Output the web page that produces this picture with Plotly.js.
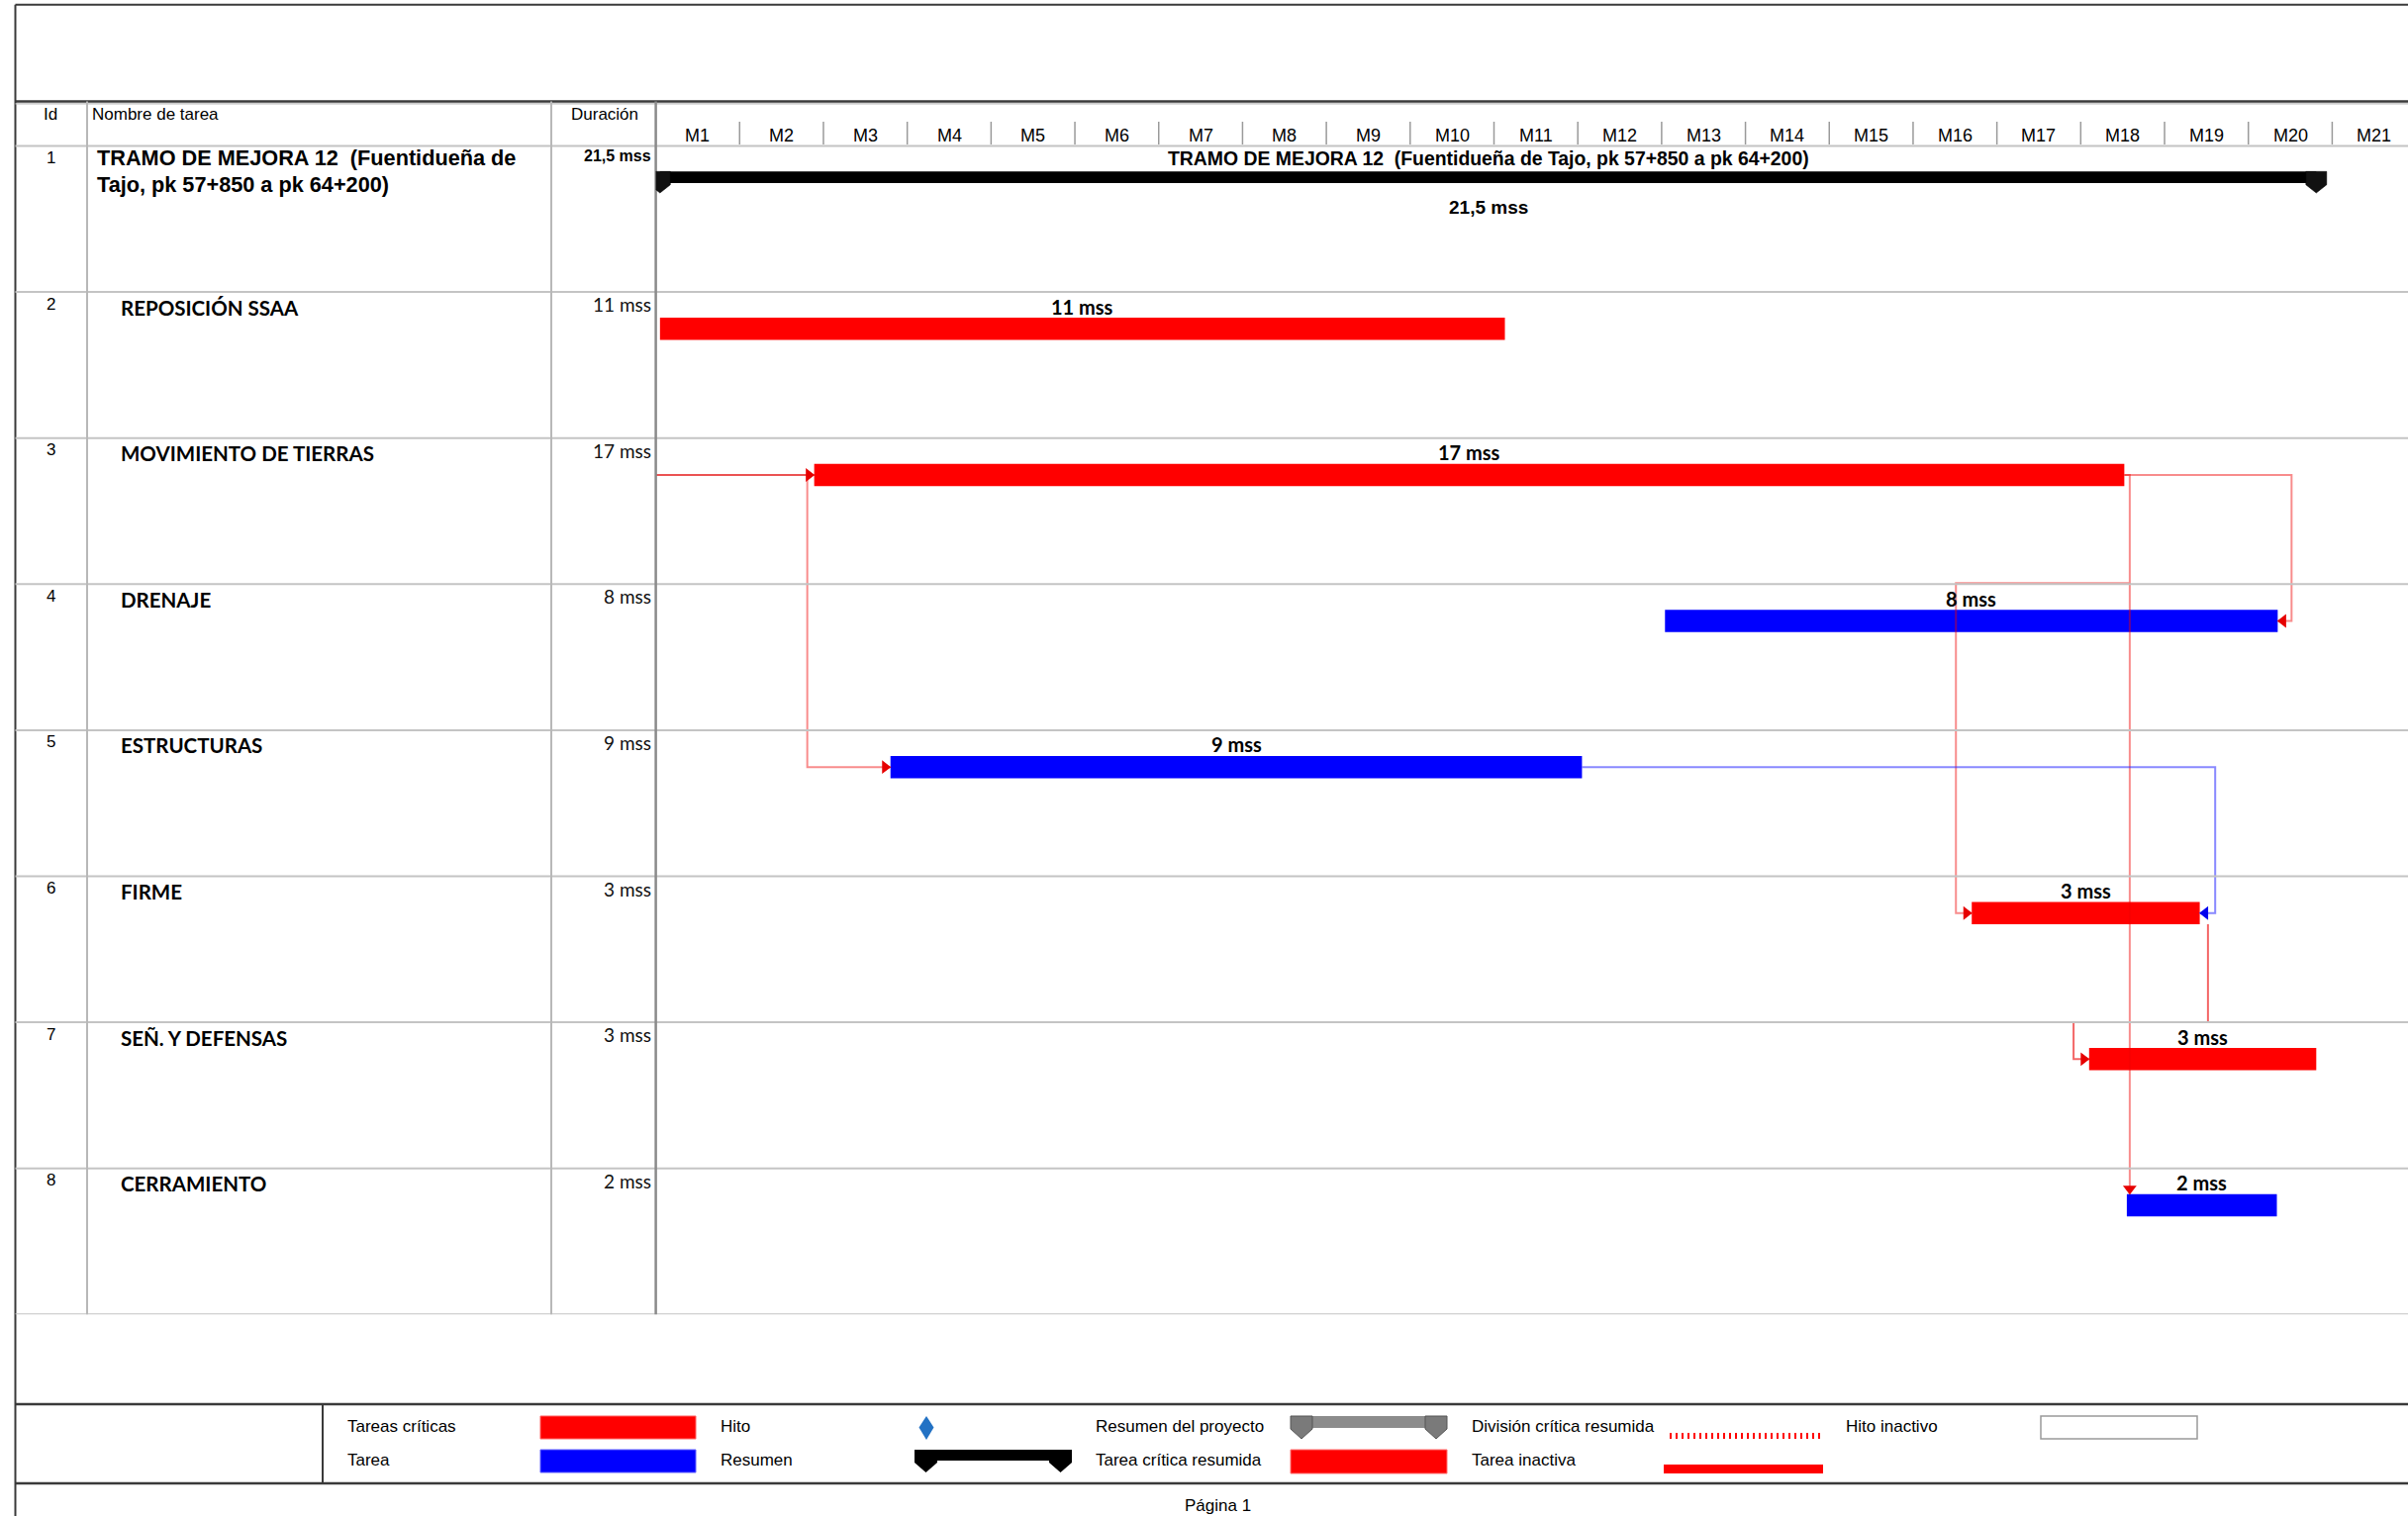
<!DOCTYPE html>
<html><head><meta charset="utf-8">
<script src="https://cdn.plot.ly/plotly-3.0.1.min.js"></script>
<style>html,body{margin:0;padding:0;background:#fff;overflow:hidden}</style>
</head><body><div id="chart" style="width:2433px;height:1532px"></div>
<script>
// ---------------- DATA ----------------
const taskIds = [1, 2, 3, 4, 5, 6, 7, 8];
const taskNames = ["TRAMO DE MEJORA 12  (Fuentidueña de Tajo, pk 57+850 a pk 64+200)",
  "REPOSICIÓN SSAA", "MOVIMIENTO DE TIERRAS", "DRENAJE", "ESTRUCTURAS", "FIRME", "SEÑ. Y DEFENSAS", "CERRAMIENTO"];
const nameLine1 = "TRAMO DE MEJORA 12\u00a0\u00a0(Fuentidueña de";
const nameLine2 = "Tajo, pk 57+850 a pk 64+200)";
const durationLabels = ["21,5 mss", "11 mss", "17 mss", "8 mss", "9 mss", "3 mss", "3 mss", "2 mss"];
// start / end read on the timescale (units = timescale months, 0 = start of M1)
const taskStart = [null, 0.05, 1.89, 12.04, 2.80, 15.70, 17.10, 17.55];
const taskEnd   = [null, 10.13, 17.52, 19.35, 11.05, 18.42, 19.81, 19.34];
const taskCritical = [null, true, true, false, false, true, true, false];
const monthLabels = ["M1","M2","M3","M4","M5","M6","M7","M8","M9","M10","M11","M12","M13","M14","M15","M16","M17","M18","M19","M20","M21"];
const legendCol1 = ["Tareas críticas", "Tarea"];
const legendCol2 = ["Hito", "Resumen"];
const legendCol3 = ["Resumen del proyecto", "Tarea crítica resumida"];
const legendCol4 = ["División crítica resumida", "Tarea inactiva"];
const legendCol5 = ["Hito inactivo"];
const headers = ["Id", "Nombre de tarea", "Duración"];
const pageLabel = "Página 1";

// ---------------- GEOMETRY ----------------
const W = 2433, H = 1532;
const X0 = 662.6, MW = 84.69;      // timeline left edge, month width (px)
const ROW0 = 147.5, RH = 147.6;    // top of row 1, row height (px)
const NR = 8;
const P = x => x / W, Q = y => 1 - y / H;
const dx = px => px / MW, dy = px => px / RH;
const BAR_T = 26, BAR_H = 22.5;
const yc = i => (i - 1) + dy(BAR_T + BAR_H / 2);
const ytop = i => (i - 1) + dy(BAR_T);
const ybot = i => (i - 1) + dy(BAR_T + BAR_H);

const RED = '#ff0000', BLUE = '#0000ff';
const ARIAL = 'Liberation Sans, Arial, sans-serif';
const CAL = 'Lato, Carlito, Calibri, sans-serif';

const traces = [];
// task bars
function barTrace(crit, color) {
  const ys = [], bases = [], lens = [];
  for (let i = 2; i <= NR; i++) {
    if (taskCritical[i - 1] === crit) {
      ys.push(yc(i)); bases.push(taskStart[i - 1]); lens.push(taskEnd[i - 1] - taskStart[i - 1]);
    }
  }
  return {type: 'bar', orientation: 'h', y: ys, base: bases, x: lens, width: ys.map(() => dy(BAR_H)),
    marker: {color: color, line: {width: 0}}, hoverinfo: 'skip'};
}
traces.push(barTrace(true, RED));
traces.push(barTrace(false, BLUE));
// summary bar
const sumStart = Math.min(...taskStart.slice(1));
const sumEnd = Math.max(...taskEnd.slice(1));
const SUM_T = 25.8, SUM_H = 11.7;
traces.push({type: 'bar', orientation: 'h', y: [dy(SUM_T + SUM_H / 2)], base: [sumStart], x: [sumEnd - sumStart],
  width: [dy(SUM_H)], marker: {color: '#000', line: {width: 0}}, hoverinfo: 'skip'});

// links
const s = i => taskStart[i - 1], e = i => taskEnd[i - 1];
const LRED = 'rgba(240,0,0,0.45)', LBLUE = 'rgba(40,40,255,0.55)';
function link(pts, color, w) {
  traces.push({type: 'scatter', mode: 'lines', x: pts.map(p => p[0]), y: pts.map(p => p[1]),
    line: {color: color, width: w || 2}, hoverinfo: 'skip'});
}
const arrows = {red: {x: [], y: [], sym: []}, blue: {x: [], y: [], sym: []}};
function arrow(c, x, y, sym) { arrows[c].x.push(x); arrows[c].y.push(y); arrows[c].sym.push(sym); }
const AH = 5.5; // half arrow size px
// A: from project start to task 3
link([[0, yc(3)], [s(3), yc(3)]], 'rgba(225,0,0,0.9)', 1.6);
arrow('red', s(3) - dx(AH), yc(3), 'triangle-right');
// B: 3 -> 5 (start-start)
const bx = s(3) - dx(7);
link([[bx, yc(3)], [bx, yc(5)], [s(5), yc(5)]], LRED);
arrow('red', s(5) - dx(AH), yc(5), 'triangle-right');
// C: 3 -> 4 (finish-finish)
const cx = e(4) + dx(14);
link([[e(3), yc(3)], [cx, yc(3)], [cx, yc(4)], [e(4), yc(4)]], LRED);
arrow('red', e(4) + dx(AH), yc(4), 'triangle-left');
// D: 3 -> 6
const dxv = e(3) + dx(5.5), dxl = s(6) - dx(16);
link([[e(3), yc(3)], [dxv, yc(3)], [dxv, 3 - dy(1)], [dxl, 3 - dy(1)], [dxl, yc(6)], [s(6), yc(6)]], LRED);
arrow('red', s(6) - dx(AH), yc(6), 'triangle-right');
// E: 3 -> 8
link([[dxv, 3 - dy(1)], [dxv, ytop(8)]], LRED);
arrow('red', dxv, ytop(8) - dy(AH), 'triangle-down');
// F: 5 -> 6 (finish-finish, blue)
const fx = e(6) + dx(15.6);
link([[e(5), yc(5)], [fx, yc(5)], [fx, yc(6)], [e(6), yc(6)]], LBLUE);
arrow('blue', e(6) + dx(AH), yc(6), 'triangle-left');
// G: 6 -> 7
const gx = e(6) + dx(8.3), gl = s(7) - dx(15.7);
link([[gx, ybot(6)], [gx, 6], [gl, 6], [gl, yc(7)], [s(7), yc(7)]], 'rgba(235,0,0,0.6)');
arrow('red', s(7) - dx(AH), yc(7), 'triangle-right');
for (const [c, col] of [['red', '#e60000'], ['blue', '#0000ee']]) {
  traces.push({type: 'scatter', mode: 'markers', x: arrows[c].x, y: arrows[c].y,
    marker: {symbol: arrows[c].sym, size: 12, color: col, line: {width: 0}}, hoverinfo: 'skip'});
}

// ---------------- SHAPES ----------------
const shapes = [];
const DARK = '#3a3a3a', GRID = '#c4c4c4';
function hline(y, x1, x2, color, w) { shapes.push({type: 'line', xref: 'paper', yref: 'paper', x0: P(x1), x1: P(x2), y0: Q(y), y1: Q(y), line: {color, width: w}}); }
function vline(x, y1, y2, color, w) { shapes.push({type: 'line', xref: 'paper', yref: 'paper', x0: P(x), x1: P(x), y0: Q(y1), y1: Q(y2), line: {color, width: w}}); }
function rect(x1, y1, x2, y2, fill, lc, lw) { shapes.push({type: 'rect', xref: 'paper', yref: 'paper', x0: P(x1), x1: P(x2), y0: Q(y1), y1: Q(y2), fillcolor: fill, line: {color: lc || fill, width: lw || 0}}); }
function path(pts, fill, lc) {
  shapes.push({type: 'path', xref: 'paper', yref: 'paper', fillcolor: fill, line: {color: lc || fill, width: lc ? 1 : 0},
    path: 'M' + pts.map(p => P(p[0]) + ',' + Q(p[1])).join('L') + 'Z'});
}
// frame
hline(4.7, 15.5, W, DARK, 2);
vline(15.5, 4.7, H, DARK, 2);
hline(102.5, 15.5, W, DARK, 2.5);
hline(104.8, 15.5, W, '#bdbdbd', 1.2);
hline(ROW0, 15.5, W, GRID, 2);
for (let k = 1; k <= NR; k++) {
  shapes.push({type: 'line', xref: 'paper', yref: 'y', x0: P(15.5), x1: 1, y0: k, y1: k, line: {color: GRID, width: 2}});
}
vline(88, 102.5, ROW0 + NR * RH, '#b8b8b8', 2);
vline(557, 102.5, ROW0 + NR * RH, '#b8b8b8', 2);
vline(X0, 102.5, ROW0 + NR * RH, '#8a8a8a', 2.5);
// timescale separators
for (let k = 1; k <= monthLabels.length; k++) {
  shapes.push({type: 'line', xref: 'x', yref: 'paper', x0: k, x1: k, y0: Q(123), y1: Q(146), line: {color: '#9a9a9a', width: 1.5}});
}
// summary caps (data-based)
const capHW = dx(10.5);
for (const cxp of [sumStart, sumEnd]) {
  const t = dy(SUM_T), m = dy(SUM_T + 13.4), b = dy(SUM_T + 21.7);
  shapes.push({type: 'path', xref: 'x', yref: 'y', fillcolor: '#111', line: {color: '#000', width: 0.5},
    path: `M${cxp - capHW},${t}L${cxp + capHW},${t}L${cxp + capHW},${m}L${cxp},${b}L${cxp - capHW},${m}Z`});
}
// legend box
hline(1419, 15.5, W, DARK, 2.5);
hline(1499, 15.5, W, DARK, 2.5);
vline(326, 1419, 1499, DARK, 2);
rect(546, 1431, 703, 1454, RED, '#ff6060', 1);
rect(546, 1465, 703, 1488, BLUE, '#6060ff', 1);
path([[936, 1431], [943.5, 1442.5], [936, 1455], [928.5, 1442.5]], '#2372c4');
// resumen black
rect(924, 1465, 1083, 1476, '#000');
path([[924, 1465], [947, 1465], [947, 1478], [935.5, 1488], [924, 1478]], '#000');
path([[1060, 1465], [1083, 1465], [1083, 1478], [1071.5, 1488], [1060, 1478]], '#000');
// resumen del proyecto grey
rect(1304, 1431, 1462, 1443, '#8c8c8c');
path([[1304, 1431], [1326, 1431], [1326, 1444], [1315, 1454], [1304, 1444]], '#7a7a7a', '#555');
path([[1440, 1431], [1462, 1431], [1462, 1444], [1451, 1454], [1440, 1444]], '#7a7a7a', '#555');
rect(1304, 1465, 1462, 1489, RED, '#ff7070', 1);
// division critica resumida
shapes.push({type: 'line', xref: 'paper', yref: 'paper', x0: P(1687), x1: P(1841), y0: Q(1451), y1: Q(1451), line: {color: RED, width: 6, dash: '2px,4px'}});
rect(1681, 1480, 1842, 1489, RED);
rect(2062, 1431, 2220, 1454, '#fff', '#9a9a9a', 1.5);

// ---------------- ANNOTATIONS ----------------
const ann = [];
function txt(x, y, text, opts) {
  ann.push(Object.assign({x, y, text, showarrow: false, xanchor: 'left', yanchor: 'middle',
    font: {family: ARIAL, size: 17, color: '#000'}}, opts));
}
// column headers
txt(P(51), Q(115), headers[0], {xref: 'paper', yref: 'paper', xanchor: 'center'});
txt(P(91), Q(115), headers[1], {xref: 'paper', yref: 'paper'});
txt(P(611), Q(115), headers[2], {xref: 'paper', yref: 'paper', xanchor: 'center'});
// month labels
monthLabels.forEach((m, k) => txt(k + 0.5, Q(136.6), m, {xref: 'x', yref: 'paper', xanchor: 'center', font: {family: ARIAL, size: 18, color: '#000'}}));
// rows
for (let i = 1; i <= NR; i++) {
  txt(P(51), (i - 1) + dy(12), String(taskIds[i - 1]), {xref: 'paper', yref: 'y', xanchor: 'center'});
  if (i === 1) {
    txt(P(96), dy(12.5), nameLine1, {xref: 'paper', yref: 'y', font: {family: ARIAL, size: 21.7, color: '#000', weight: 700}});
    txt(P(96), dy(39), nameLine2, {xref: 'paper', yref: 'y', font: {family: ARIAL, size: 21.7, color: '#000', weight: 700}});
    txt(P(660), dy(9.8), durationLabels[0], {xref: 'paper', yref: 'y', xanchor: 'right', font: {family: ARIAL, size: 16, color: '#000', weight: 700}});
    // summary labels
    const mid = (sumStart + sumEnd) / 2;
    txt(mid, dy(12.5), taskNames[0].replace('  ', '\u00a0\u00a0'), {xref: 'x', yref: 'y', xanchor: 'center', font: {family: ARIAL, size: 19.4, color: '#000', weight: 700}});
    txt(mid, dy(62.5), durationLabels[0], {xref: 'x', yref: 'y', xanchor: 'center', font: {family: ARIAL, size: 19, color: '#000', weight: 700}});
  } else {
    txt(P(119.5), (i - 1) + dy(15.5), taskNames[i - 1], {xref: 'paper', yref: 'y', font: {family: CAL, size: 20.5, color: '#000', weight: 700}});
    txt(P(660), (i - 1) + dy(12.5), durationLabels[i - 1], {xref: 'paper', yref: 'y', xanchor: 'right', font: {family: CAL, size: 19, color: '#111'}});
    txt((s(i) + e(i)) / 2, (i - 1) + dy(14.5), durationLabels[i - 1], {xref: 'x', yref: 'y', xanchor: 'center', font: {family: CAL, size: 20, color: '#000', weight: 700}});
  }
}
// legend text
const LY = [1441.5, 1475.7];
const LF = {family: ARIAL, size: 17, color: '#000'};
[[legendCol1, 349], [legendCol2, 726], [legendCol3, 1105], [legendCol4, 1485], [legendCol5, 1863]].forEach(([col, x]) => {
  col.forEach((t, r) => txt(P(x), Q(LY[r]), t, {xref: 'paper', yref: 'paper', font: LF}));
});
txt(P(1230), Q(1521), pageLabel, {xref: 'paper', yref: 'paper', xanchor: 'center', font: LF});

const layout = {
  width: W, height: H, margin: {l: 0, r: 0, t: 0, b: 0, pad: 0},
  paper_bgcolor: '#fff', plot_bgcolor: 'rgba(0,0,0,0)', showlegend: false, barmode: 'overlay',
  font: {family: ARIAL, color: '#000'},
  xaxis: {domain: [P(X0), 1], range: [0, (W - X0) / MW], visible: false, fixedrange: true},
  yaxis: {domain: [Q(ROW0 + NR * RH), Q(ROW0)], range: [NR, 0], visible: false, fixedrange: true},
  shapes, annotations: ann
};
Plotly.newPlot('chart', traces, layout, {staticPlot: true, displayModeBar: false});
</script></body></html>
